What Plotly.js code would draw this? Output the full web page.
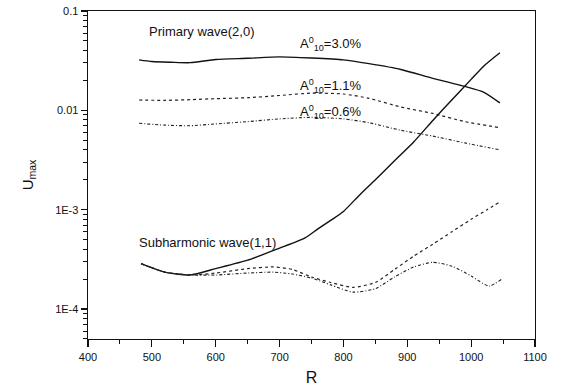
<!DOCTYPE html>
<html><head><meta charset="utf-8">
<script src="https://cdn.plot.ly/plotly-3.0.1.min.js"></script>
<style>html,body{margin:0;padding:0;background:#fff}#chart{width:561px;height:389px}</style>
</head><body><div id="chart"></div>
<script>
// Primary wave (2,0)
const rP30 = [480,500,530,560,600,650,700,750,800,840,890,940,990,1020,1045];
const uP30 = [0.0322,0.031,0.0305,0.0302,0.0325,0.0334,0.0345,0.0336,0.0322,0.0295,0.0258,0.021,0.0174,0.0152,0.0119];
const rP11 = [480,520,560,600,650,700,750,800,840,890,940,990,1045];
const uP11 = [0.0127,0.0126,0.0128,0.0131,0.0134,0.0141,0.0149,0.0146,0.0132,0.0108,0.0093,0.0077,0.0067];
const rP06 = [480,520,560,600,650,700,750,800,840,890,940,990,1045];
const uP06 = [0.0074,0.0071,0.0070,0.0073,0.0077,0.0082,0.0085,0.0082,0.0075,0.0063,0.0055,0.0047,0.0040];
// Subharmonic wave (1,1)
const rS30 = [483,500,520,560,600,650,700,740,760,780,800,825,850,880,910,940,970,1000,1020,1045];
const uS30 = [2.86e-4,2.6e-4,2.35e-4,2.2e-4,2.55e-4,3.1e-4,4.1e-4,5.2e-4,6.4e-4,7.8e-4,9.6e-4,1.4e-3,2.0e-3,3.1e-3,4.8e-3,7.9e-3,1.28e-2,2.05e-2,2.8e-2,3.8e-2];
const rS11 = [483,500,520,560,600,650,690,720,750,780,815,850,880,910,940,970,1000,1025,1045];
const uS11 = [2.86e-4,2.6e-4,2.35e-4,2.2e-4,2.3e-4,2.55e-4,2.65e-4,2.5e-4,2.1e-4,1.85e-4,1.65e-4,1.85e-4,2.5e-4,3.4e-4,4.5e-4,6.0e-4,8.0e-4,1.0e-3,1.2e-3];
const rS06 = [483,500,520,560,600,650,690,720,750,780,815,850,880,910,940,970,1000,1028,1048];
const uS06 = [2.86e-4,2.6e-4,2.35e-4,2.2e-4,2.2e-4,2.3e-4,2.35e-4,2.25e-4,2.05e-4,1.75e-4,1.48e-4,1.6e-4,2.1e-4,2.65e-4,2.95e-4,2.7e-4,2.15e-4,1.7e-4,2.0e-4];
// Axis ticks
const yTickVals = [1e-4,1e-3,0.01,0.1];
const yTickText = ['1E-4','1E-3','0.01','0.1'];
const xTickVals = [400,500,600,700,800,900,1000,1100];

const solid = {color:'#111', width:1.4};
const dotted = {color:'#222', width:1.2, dash:'dot'};
const dashdot = {color:'#222', width:1.1, dash:'3px,2px,1px,2px'};
const traces = [
  {x:rP30, y:uP30, mode:'lines', line:solid, line_shape:'spline'},
  {x:rP11, y:uP11, mode:'lines', line:dotted},
  {x:rP06, y:uP06, mode:'lines', line:dashdot},
  {x:rS30, y:uS30, mode:'lines', line:solid},
  {x:rS11, y:uS11, mode:'lines', line:dotted},
  {x:rS06, y:uS06, mode:'lines', line:dashdot}
].map(t => Object.assign(t, {line: Object.assign({}, t.line, {shape:'spline', smoothing:0.6}), showlegend:false, hoverinfo:'skip'}));

const f = {family:'Liberation Sans, Arial, sans-serif', color:'#111'};
const layout = {
  width:561, height:389,
  margin:{l:88, r:26, t:11, b:50},
  paper_bgcolor:'#fff', plot_bgcolor:'#fff',
  showlegend:false,
  font:Object.assign({size:11}, f),
  xaxis:{
    range:[400,1100], tickmode:'array', tickvals:xTickVals,
    ticks:'outside', ticklen:7, tickwidth:1.2, tickcolor:'#111',
    minor:{dtick:50, ticks:'outside', ticklen:4, tickwidth:1, tickcolor:'#111', showgrid:false},
    showline:true, linecolor:'#111', linewidth:1.4, mirror:true,
    showgrid:false, zeroline:false,
    tickfont:Object.assign({size:11}, f),
    title:{text:'R', font:Object.assign({size:16}, f), standoff:10}
  },
  yaxis:{
    type:'log', range:[-4.302,-1], tickmode:'array', tickvals:yTickVals, ticktext:yTickText,
    ticks:'outside', ticklen:6, tickwidth:1.2, tickcolor:'#111',
    minor:{dtick:'D1', ticks:'outside', ticklen:4, tickwidth:1, tickcolor:'#111', showgrid:false},
    showline:true, linecolor:'#111', linewidth:1.4, mirror:true,
    showgrid:false, zeroline:false,
    tickfont:Object.assign({size:11}, f),
    title:{text:'U<sub>max</sub>', font:Object.assign({size:15}, f), standoff:18}
  },
  annotations:[
    {xref:'paper', yref:'paper', x:0.132, y:0.939, xanchor:'left', yanchor:'middle', showarrow:false, text:'Primary wave(2,0)', font:Object.assign({size:13}, f)},
    {xref:'paper', yref:'paper', x:0.47, y:0.899, xanchor:'left', yanchor:'middle', showarrow:false, text:'A<sup>0</sup><sub>10</sub>=3.0%', font:Object.assign({size:13}, f)},
    {xref:'paper', yref:'paper', x:0.47, y:0.771, xanchor:'left', yanchor:'middle', showarrow:false, text:'A<sup>0</sup><sub>10</sub>=1.1%', font:Object.assign({size:13}, f)},
    {xref:'paper', yref:'paper', x:0.47, y:0.692, xanchor:'left', yanchor:'middle', showarrow:false, text:'A<sup>0</sup><sub>10</sub>=0.6%', font:Object.assign({size:13}, f)},
    {xref:'paper', yref:'paper', x:0.11, y:0.293, xanchor:'left', yanchor:'middle', showarrow:false, text:'Subharmonic wave(1,1)', font:Object.assign({size:13}, f)}
  ]
};
Plotly.newPlot('chart', traces, layout, {staticPlot:true, displayModeBar:false});
</script></body></html>
